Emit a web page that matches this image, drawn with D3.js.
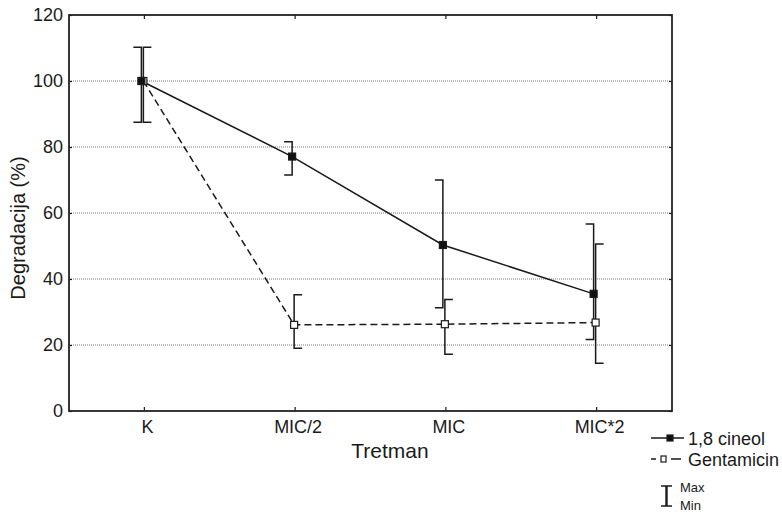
<!DOCTYPE html>
<html><head><meta charset="utf-8">
<script src="https://cdn.jsdelivr.net/npm/d3@7"></script>
<style>
body{margin:0;background:#fff;}
svg{display:block;font-family:"Liberation Sans",Arial,sans-serif;}
</style></head>
<body><svg id="c" width="782" height="514"></svg>
<script>
const categories = ["K","MIC/2","MIC","MIC*2"];
const cineolMean = [100, 77.1, 50.3, 35.5];
const cineolMin  = [87.5, 71.5, 31.3, 21.7];
const cineolMax  = [110.2, 81.6, 70.0, 56.7];
const gentMean = [100, 26.1, 26.3, 26.8];
const gentMin  = [87.5, 19.0, 17.2, 14.5];
const gentMax  = [110.2, 35.2, 33.8, 50.6];
const yTicks = [0,20,40,60,80,100,120];
const gridTicks = [20,40,60,80,100];

const svg = d3.select("#c");
const L=69, R=672, T=15, B=411;
const x = d3.scaleBand().domain(categories).range([L,R]).paddingInner(0).paddingOuter(0);
const y = d3.scaleLinear().domain([0,120]).range([B,T]);
const cx = c => x(c) + x.bandwidth()/2;
const ink = "#1a1a1a";

// gridlines
svg.append("g").selectAll("line").data(gridTicks).join("line")
  .attr("x1",L).attr("x2",R).attr("y1",d=>y(d)).attr("y2",d=>y(d))
  .attr("stroke","#555").attr("stroke-width",0.8).attr("stroke-dasharray","1,1");

// left axis (ticks inward)
const gl = svg.append("g").attr("transform",`translate(${L},0)`)
  .call(d3.axisLeft(y).tickValues(yTicks).tickSize(-3).tickPadding(6));
gl.select(".domain").remove();
gl.selectAll("line").attr("stroke",ink).attr("stroke-width",1.2);
gl.selectAll("text").attr("font-size","18px").attr("fill",ink).attr("font-family","Liberation Sans, Arial, sans-serif");

// right ticks
const gr = svg.append("g").attr("transform",`translate(${R},0)`)
  .call(d3.axisRight(y).tickValues(yTicks).tickSize(-3).tickFormat(""));
gr.select(".domain").remove();
gr.selectAll("line").attr("stroke",ink).attr("stroke-width",1.2);

// bottom axis (ticks inward)
const gb = svg.append("g").attr("transform",`translate(0,${B})`)
  .call(d3.axisBottom(x).tickSize(-4).tickPadding(9));
gb.select(".domain").remove();
gb.selectAll("line").attr("stroke",ink).attr("stroke-width",1.2);
gb.selectAll("text").attr("font-size","18px").attr("fill",ink).attr("dx","3")
  .attr("font-family","Liberation Sans, Arial, sans-serif");

// top ticks
const gt = svg.append("g").attr("transform",`translate(0,${T})`)
  .call(d3.axisTop(x).tickSize(-4).tickFormat(""));
gt.select(".domain").remove();
gt.selectAll("line").attr("stroke",ink).attr("stroke-width",1.2);

// frame
svg.append("rect").attr("x",L).attr("y",T).attr("width",R-L).attr("height",B-T)
  .attr("fill","none").attr("stroke","#222").attr("stroke-width",1.8);

// series
const series = [
  {name:"1,8 cineol", mean:cineolMean, min:cineolMin, max:cineolMax, off:-3, dash:null, fill:"#111", capDir:-1},
  {name:"Gentamicin", mean:gentMean, min:gentMin, max:gentMax, off:-1, dash:"7,4", fill:"#fff", capDir:1}
];
const capW = 8;
series.forEach(s=>{
  const pts = categories.map((c,i)=>({x:cx(c)+s.off, m:s.mean[i], lo:s.min[i], hi:s.max[i]}));
  svg.append("path").datum(pts)
    .attr("d", d3.line().x(d=>d.x).y(d=>y(d.m)))
    .attr("fill","none").attr("stroke",ink).attr("stroke-width",1.5)
    .attr("stroke-dasharray", s.dash);
  const g = svg.append("g").attr("stroke",ink).attr("stroke-width",1.5).attr("fill","none");
  g.selectAll("path").data(pts).join("path")
    .attr("d", d=>`M${d.x+s.capDir*capW},${y(d.hi)}H${d.x}V${y(d.lo)}H${d.x+s.capDir*capW}`);
});
// markers: gentamicin first, cineol on top
[series[1], series[0]].forEach(s=>{
  const pts = categories.map((c,i)=>({x:cx(c)+s.off, m:s.mean[i]}));
  svg.append("g").selectAll("rect").data(pts).join("rect")
    .attr("x",d=>d.x-3.5).attr("y",d=>y(d.m)-3.5).attr("width",7).attr("height",7)
    .attr("fill",s.fill).attr("stroke",ink).attr("stroke-width",1.2);
});

// axis titles
svg.append("text").attr("x",390).attr("y",458).attr("text-anchor","middle")
  .attr("font-size","21px").attr("fill",ink).text("Tretman");
svg.append("text").attr("transform","translate(25,228) rotate(-90)").attr("text-anchor","middle")
  .attr("font-size","20px").attr("fill",ink).text("Degradacija (%)");

// legend
const lg = svg.append("g");
lg.append("line").attr("x1",651).attr("x2",684).attr("y1",438).attr("y2",438)
  .attr("stroke",ink).attr("stroke-width",1.5);
lg.append("rect").attr("x",667).attr("y",435).attr("width",6).attr("height",6)
  .attr("fill",series[0].fill).attr("stroke",ink).attr("stroke-width",1.2);
lg.append("text").attr("x",688).attr("y",444.5).attr("font-size","18px").attr("fill",ink).text(series[0].name);

lg.append("path").attr("d","M651,459H656M671,459H681")
  .attr("stroke",ink).attr("stroke-width",1.5);
lg.append("rect").attr("x",661).attr("y",456).attr("width",5).attr("height",6)
  .attr("fill",series[1].fill).attr("stroke",ink).attr("stroke-width",1.2);
lg.append("text").attr("x",688).attr("y",465.5).attr("font-size","18px").attr("fill",ink).text(series[1].name);

// Max/Min key
lg.append("path").attr("d","M661,486H666V506H661M672,486H667V506H672")
  .attr("stroke",ink).attr("stroke-width",1.4).attr("fill","none");
lg.append("text").attr("x",680).attr("y",492).attr("font-size","13px").attr("fill",ink).text("Max");
lg.append("text").attr("x",680).attr("y",510).attr("font-size","13px").attr("fill",ink).text("Min");
</script></body></html>
